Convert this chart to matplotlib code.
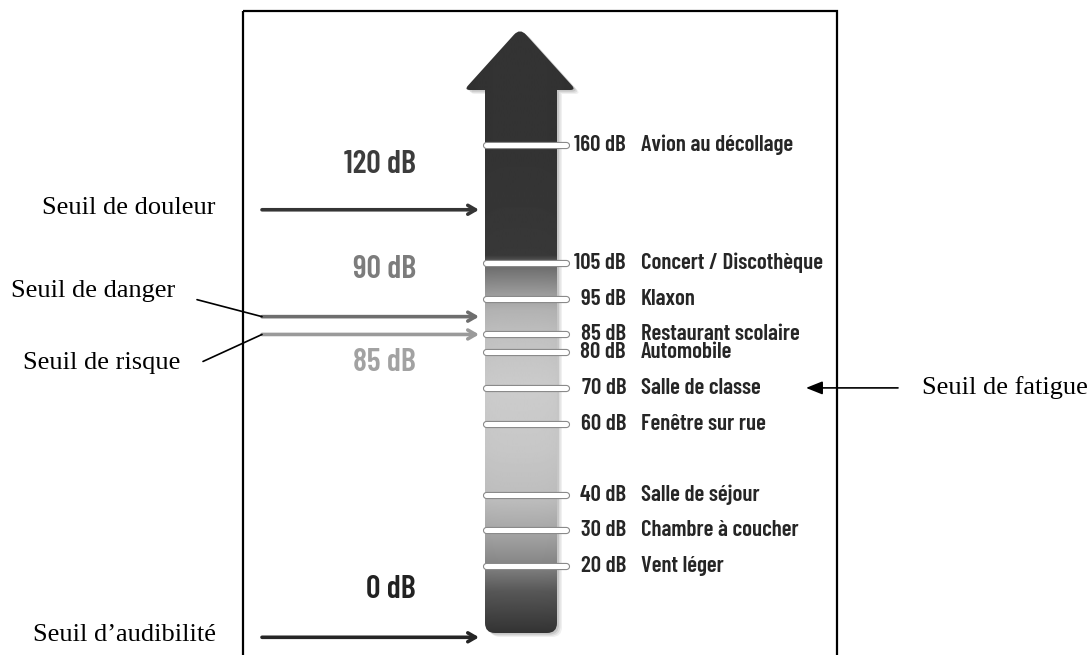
import matplotlib
matplotlib.use("Agg")
import matplotlib.pyplot as plt
import matplotlib.patheffects as pe
from matplotlib.path import Path
from matplotlib.patches import PathPatch, Rectangle
import numpy as np

# sound sources on the scale
levels_db = [160, 105, 95, 85, 80, 70, 60, 40, 30, 20]
sources = ["Avion au décollage", "Concert / Discothèque", "Klaxon",
           "Restaurant scolaire", "Automobile", "Salle de classe",
           "Fenêtre sur rue", "Salle de séjour", "Chambre à coucher",
           "Vent léger"]

# thresholds (arrows on the left)
thresholds_db = [120, 90, 85, 0]
threshold_names = ["Seuil de douleur", "Seuil de danger", "Seuil de risque",
                   "Seuil d\u2019audibilité"]
threshold_colors = ["#353535", "#6e6e6e", "#9a9a9a", "#252525"]
label_colors = ["#3c3c3c", "#7c7c7c", "#a2a2a2", "#222222"]
fatigue_db = 70

W, H = 1090, 655
fig = plt.figure(figsize=(W / 100, H / 100), dpi=100)
fig.patch.set_facecolor("white")

# background axes in pixel units: frame + the big arrow
bg = fig.add_axes([0, 0, 1, 1])
bg.set_xlim(0, W)
bg.set_ylim(H, 0)
bg.axis("off")

bg.add_patch(Rectangle((243, 11), 594, 660, fill=False, lw=1.6,
                       edgecolor="black", zorder=1))


def rounded(pts, radii):
    verts, codes = [], []
    n = len(pts)
    for i in range(n):
        p = np.array(pts[i], float)
        r = radii[i]
        if r == 0:
            verts.append(p)
            codes.append(Path.MOVETO if i == 0 else Path.LINETO)
            continue
        a = np.array(pts[i - 1], float)
        b = np.array(pts[(i + 1) % n], float)
        u = (a - p) / np.linalg.norm(a - p)
        v = (b - p) / np.linalg.norm(b - p)
        verts += [p + u * r, p, p + v * r]
        codes += [Path.MOVETO if i == 0 else Path.LINETO, Path.CURVE3, Path.CURVE3]
    verts.append(verts[0])
    codes.append(Path.CLOSEPOLY)
    return Path(verts, codes)


shape = [(520, 28), (576, 90), (557, 90), (557, 633), (485, 633),
         (485, 90), (464, 90)]
radii = [9, 6, 0, 10, 10, 0, 6]
arrow_path = rounded(shape, radii)

# soft shadow
for off, al in [(5, 0.06), (3.5, 0.08), (2, 0.1)]:
    sp = Path(arrow_path.vertices + np.array([off, off * 0.8]), arrow_path.codes)
    bg.add_patch(PathPatch(sp, facecolor="black", edgecolor="none", alpha=al, zorder=1))

# grey gradient inside the arrow
ys = np.arange(28, 634)
stops_y = [28, 150, 255, 262, 268, 295, 310, 340, 390, 450, 500, 535, 565, 592, 633]
stops_g = [0.2, 0.2, 0.22, 0.36, 0.44, 0.62, 0.7, 0.76, 0.8, 0.78, 0.74,
           0.64, 0.52, 0.34, 0.2]
col = np.interp(ys, stops_y, stops_g)
xs = np.linspace(-1, 1, 60)
shade = 1 - 0.06 * xs ** 4
img = col[:, None] * shade[None, :]
im = bg.imshow(img, cmap="gray", vmin=0, vmax=1, extent=(464, 576, 633, 28),
               origin="upper", aspect="auto", interpolation="bilinear", zorder=2)
patch = PathPatch(arrow_path, facecolor="none", edgecolor="none")
bg.add_patch(patch)
im.set_clip_path(patch)


# data axes: y in dB, compressed above 120 dB
def fwd(d):
    d = np.asarray(d, float)
    return np.where(d <= 120, d, 120 + (d - 120) * 0.455)


def inv(v):
    v = np.asarray(v, float)
    return np.where(v <= 120, v, 120 + (v - 120) / 0.455)


ax = fig.add_axes([0, 0, 1, 1])
ax.set_xlim(0, W)
ax.set_yscale("function", functions=(fwd, inv))
ax.set_ylim(-4.97, 249.4)
ax.axis("off")

cond = ["Barlow Condensed", "Roboto Condensed", "DejaVu Sans"]
serif = ["Liberation Serif", "DejaVu Serif"]

for db, name in zip(levels_db, sources):
    ax.plot([486, 566], [db, db], color="white", lw=3.6, solid_capstyle="round",
            path_effects=[pe.Stroke(linewidth=5.2, foreground="#8a8a8a"), pe.Normal()],
            zorder=3)
    ax.text(626, db, f"{db} dB", ha="right", va="center", fontsize=16.5,
            family=cond, color="#262626", weight="semibold")
    ax.text(641, db, name, ha="left", va="center", fontsize=16.5,
            family=cond, color="#262626", weight="semibold")

label_offsets = [45, 47, -28, 48]
for db, c, lc, off in zip(thresholds_db, threshold_colors, label_colors, label_offsets):
    ax.annotate("", xy=(479, db), xytext=(262, db),
                arrowprops=dict(arrowstyle="->,head_length=0.55,head_width=0.32",
                                lw=2.6, color=c, shrinkA=0, shrinkB=0))
    ax.annotate(f"{db} dB", xy=(416, db), xytext=(0, off), textcoords="offset pixels",
                ha="right", va="center", fontsize=23, family=cond, color=lc,
                weight="semibold")

# names of the thresholds, outside the frame
name_pos = [(42, 2), (11, 26), (23, -29), (33, 2)]
for db, name, (x, dy) in zip(thresholds_db, threshold_names, name_pos):
    ax.annotate(name, xy=(x, db), xytext=(0, dy), textcoords="offset pixels",
                ha="left", va="center", fontsize=19, family=serif)

# leader lines for danger / risque
for db, dxy in [(thresholds_db[1], (-65, 17)), (thresholds_db[2], (-59, -27))]:
    ax.annotate("", xy=(262, db), xytext=dxy, textcoords="offset pixels",
                arrowprops=dict(arrowstyle="-", lw=1.2, color="black",
                                shrinkA=0, shrinkB=0))

# fatigue
ax.annotate("", xy=(806, fatigue_db), xytext=(898, fatigue_db),
            arrowprops=dict(arrowstyle="-|>,head_length=1.0,head_width=0.4",
                            lw=1.2, color="black", shrinkA=0, shrinkB=0))
ax.text(922, fatigue_db, "Seuil de fatigue", ha="left", va="center",
        fontsize=19, family=serif)

plt.savefig("out.png", dpi=100)
